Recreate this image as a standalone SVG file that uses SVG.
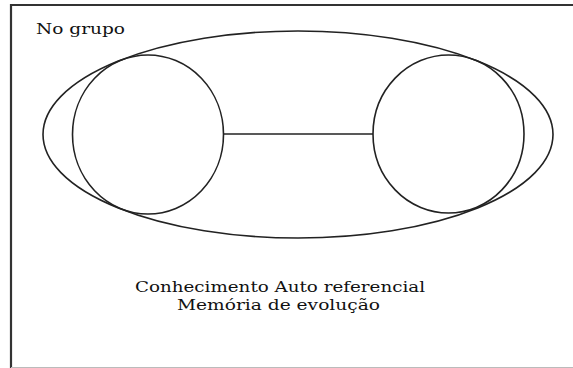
<svg xmlns="http://www.w3.org/2000/svg" width="573" height="368" viewBox="0 0 573 368">
<style>
.s{fill:none;stroke:#222;stroke-width:1.6}
.t{font-family:"DejaVu Serif","Liberation Serif","Times New Roman",serif;font-size:14px;fill:#111}
</style>
<rect x="0" y="0" width="573" height="368" fill="#fff"/>
<path d="M11,368 V5 H573" fill="none" stroke="#333" stroke-width="2.2"/>
<line x1="11" y1="367.5" x2="573" y2="367.5" stroke="#bbb" stroke-width="1"/>
<text class="t" x="36" y="34" textLength="89" lengthAdjust="spacingAndGlyphs">No grupo</text>
<g id="group">
<ellipse class="s" cx="298" cy="134.5" rx="255" ry="103.5"/>
</g>
<g id="left">
<ellipse class="s" cx="148" cy="134.5" rx="75.5" ry="79.5"/>
</g>
<g id="right">
<ellipse class="s" cx="448.5" cy="134" rx="75.5" ry="79"/>
</g>
<g id="connectors">
<line class="s" x1="223.5" y1="134" x2="373" y2="134"/>
</g>
<text class="t" x="135" y="292" textLength="290" lengthAdjust="spacingAndGlyphs">Conhecimento Auto referencial</text>
<text class="t" x="177" y="310" textLength="203" lengthAdjust="spacingAndGlyphs">Memória de evolução</text>
</svg>
